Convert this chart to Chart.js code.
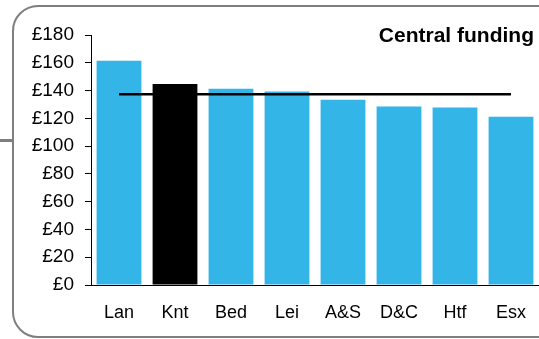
<!DOCTYPE html>
<html>
<head>
<meta charset="utf-8">
<script src="https://cdn.jsdelivr.net/npm/chart.js@4"></script>
<style>
  html, body { margin: 0; padding: 0; background: #fff; }
  #wrap { position: relative; width: 539px; height: 339px; overflow: hidden; }
  #frame {
    position: absolute; left: 12px; top: 5px; width: 580px; height: 329px;
    border: 2px solid #7f7f7f; border-radius: 26px;
  }
  #stub { position: absolute; left: 0; top: 139px; width: 13px; height: 3px; background: #7f7f7f; }
  canvas { position: absolute; left: 0; top: 0; }
</style>
</head>
<body>
<div id="wrap">
  <div id="frame"></div>
  <div id="stub"></div>
  <canvas id="chart" width="539" height="339"></canvas>
</div>
<script>
// Data
const labels = ["Lan", "Knt", "Bed", "Lei", "A&S", "D&C", "Htf", "Esx"];
const funding = [161.5, 144.7, 141.3, 139.4, 133.3, 128.5, 127.8, 121.2];
const average = [137.3, 137.3, 137.3, 137.3, 137.3, 137.3, 137.3, 137.3];
const highlight = "Knt";
const yTicks = [0, 20, 40, 60, 80, 100, 120, 140, 160, 180];

const BLUE = "#33b6e7";
const FONT = "'Liberation Sans', Arial, sans-serif";

// Title drawn inside the plot area, top right
const titlePlugin = {
  id: "cornerTitle",
  afterDraw(chart) {
    const { ctx, chartArea } = chart;
    ctx.save();
    ctx.font = "bold 21px " + FONT;
    ctx.fillStyle = "#000";
    ctx.textAlign = "right";
    ctx.textBaseline = "middle";
    ctx.fillText("Central funding", chartArea.right - 5, chartArea.top + 1);
    ctx.restore();
  },
};

new Chart(document.getElementById("chart"), {
  data: {
    labels: labels,
    datasets: [
      {
        type: "line",
        data: average,
        borderColor: "#000",
        borderWidth: 2.5,
        pointRadius: 0,
        order: 0,
      },
      {
        type: "bar",
        data: funding,
        backgroundColor: labels.map((l) => (l === highlight ? "#000" : BLUE)),
        barPercentage: 0.8,
        categoryPercentage: 1,
        order: 1,
      },
    ],
  },
  options: {
    responsive: false,
    animation: false,
    layout: { padding: { top: 35, left: 0, right: 0, bottom: 0 } },
    plugins: { legend: { display: false }, tooltip: { enabled: false } },
    scales: {
      x: {
        grid: { display: false, drawTicks: false },
        border: { display: true, color: "#000", width: 1 },
        ticks: { color: "#000", font: { family: FONT, size: 18 }, padding: 17 },
        afterFit(scale) {
          scale.height = 54;
          scale.paddingLeft = 0;
          scale.paddingRight = 0;
        },
      },
      y: {
        min: 0,
        max: 180,
        afterBuildTicks(scale) { scale.ticks = yTicks.map((v) => ({ value: v })); },
        grid: { drawOnChartArea: false, drawTicks: true, tickLength: 6, color: "#000" },
        border: { display: true, color: "#000", width: 1 },
        ticks: {
          color: "#000",
          font: { family: FONT, size: 19 },
          padding: 11,
          callback: (v) => "£" + v,
        },
        afterFit(scale) { scale.width = 91; },
      },
    },
  },
  plugins: [titlePlugin],
});
</script>
</body>
</html>
